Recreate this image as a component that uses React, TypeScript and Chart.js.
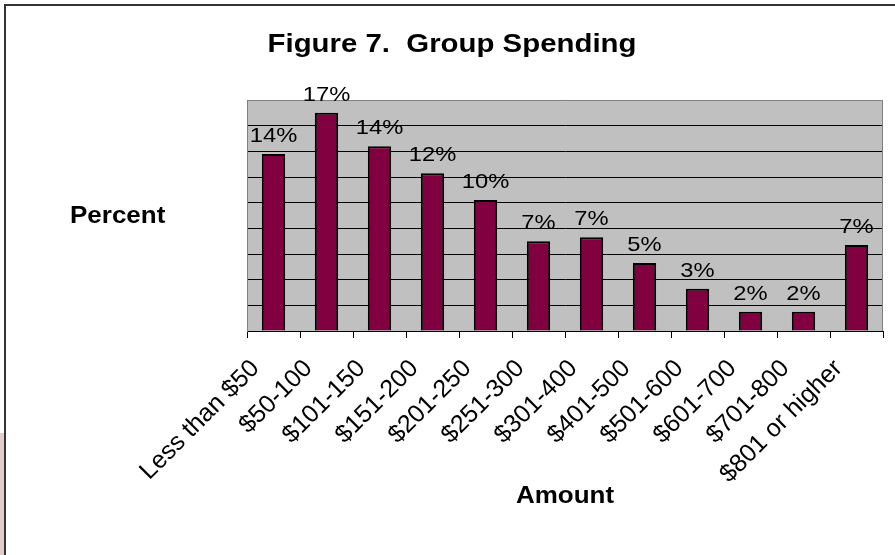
import React, { useEffect, useRef } from 'react';
import { Chart, registerables } from 'chart.js';

Chart.register(...registerables);

const categories = [
  'Less than $50',
  '$50-100',
  '$101-150',
  '$151-200',
  '$201-250',
  '$251-300',
  '$301-400',
  '$401-500',
  '$501-600',
  '$601-700',
  '$701-800',
  '$801 or higher',
];
const percentValues = [13.8, 17.0, 14.4, 12.3, 10.2, 7.0, 7.3, 5.3, 3.3, 1.5, 1.5, 6.7];
const valueLabels = ['14%', '17%', '14%', '12%', '10%', '7%', '7%', '5%', '3%', '2%', '2%', '7%'];
const chartTitle = 'Figure 7.  Group Spending';
const yTitle = 'Percent';
const xTitle = 'Amount';
const yMin = 0;
const yMax = 18;
const yStep = 2;

const FONT = '"Liberation Sans", Arial, Helvetica, sans-serif';
const STRETCH = 1.13;

function drawText(
  ctx: CanvasRenderingContext2D,
  text: string,
  x: number,
  y: number,
  font: string,
  align: 'left' | 'center' | 'right'
) {
  ctx.save();
  ctx.font = font;
  ctx.textAlign = align;
  ctx.textBaseline = 'alphabetic';
  ctx.fillStyle = '#000';
  ctx.translate(x, y);
  ctx.scale(STRETCH, 1);
  ctx.fillText(text, 0, 0);
  ctx.restore();
}

export default function App() {
  const ref = useRef<HTMLCanvasElement | null>(null);

  useEffect(() => {
    if (!ref.current) return;

    const decor = {
      id: 'decor',
      beforeDraw(chart: any) {
        const { ctx, chartArea: a } = chart;
        ctx.save();
        ctx.fillStyle = '#ffffff';
        ctx.fillRect(0, 0, chart.width, chart.height);
        ctx.fillStyle = '#e2cccc';
        ctx.fillRect(0, 433, 4, 122);
        ctx.strokeStyle = '#333333';
        ctx.lineWidth = 2;
        ctx.beginPath();
        ctx.moveTo(5, chart.height);
        ctx.lineTo(5, 5);
        ctx.lineTo(chart.width, 5);
        ctx.stroke();
        ctx.fillStyle = '#c0c0c0';
        ctx.fillRect(a.left, a.top, a.right - a.left, a.bottom - a.top);
        ctx.restore();
      },
      beforeDatasetsDraw(chart: any) {
        const { ctx, chartArea: a } = chart;
        ctx.save();
        ctx.strokeStyle = '#808080';
        ctx.lineWidth = 1;
        ctx.beginPath();
        ctx.moveTo(a.right - 0.5, a.top);
        ctx.lineTo(a.right - 0.5, a.bottom);
        ctx.stroke();
        ctx.restore();
      },
      afterDatasetsDraw(chart: any) {
        const { ctx, chartArea: a } = chart;
        const meta = chart.getDatasetMeta(0);
        meta.data.forEach((bar: any, i: number) => {
          drawText(ctx, valueLabels[i], bar.x, bar.y - 12, `21px ${FONT}`, 'center');
        });
        drawText(ctx, chartTitle, 452, 52, `bold 26px ${FONT}`, 'center');
        drawText(ctx, yTitle, 70, 223, `bold 23px ${FONT}`, 'left');
        drawText(ctx, xTitle, (a.left + a.right) / 2, 503, `bold 23px ${FONT}`, 'center');
      },
    };

    const chart = new Chart(ref.current, {
      type: 'bar',
      data: {
        labels: categories,
        datasets: [
          {
            data: percentValues,
            backgroundColor: '#800040',
            borderColor: '#000000',
            borderWidth: 2,
            barPercentage: 0.44,
            categoryPercentage: 1,
          },
        ],
      },
      options: {
        responsive: false,
        animation: false,
        layout: { padding: { left: 247, right: 12, top: 100, bottom: 0 } },
        plugins: {
          legend: { display: false },
          title: { display: false },
          tooltip: { enabled: false },
        },
        scales: {
          x: {
            grid: {
              display: true,
              drawOnChartArea: false,
              drawTicks: true,
              tickLength: 7,
              color: '#000000',
              offset: true,
            },
            border: { color: '#000000', width: 1 },
            ticks: {
              autoSkip: false,
              minRotation: 45,
              maxRotation: 45,
              padding: 16,
              labelOffset: -18,
              color: '#000000',
              font: { family: FONT, size: 25 },
            },
            afterFit: (s: any) => {
              s.height = 224;
            },
          },
          y: {
            min: yMin,
            max: yMax,
            ticks: { display: false, stepSize: yStep },
            grid: {
              drawTicks: false,
              lineWidth: 1,
              color: (c: any) => (c.tick && c.tick.value === yMax ? '#808080' : '#000000'),
            },
            border: { color: '#808080', width: 1 },
            afterFit: (s: any) => {
              s.width = 0;
            },
          },
        },
      },
      plugins: [decor],
    });

    return () => chart.destroy();
  }, []);

  return (
    <div style={{ position: 'fixed', left: 0, top: 0, width: 895, height: 555 }}>
      <canvas ref={ref} width={895} height={555} style={{ display: 'block' }} />
    </div>
  );
}
